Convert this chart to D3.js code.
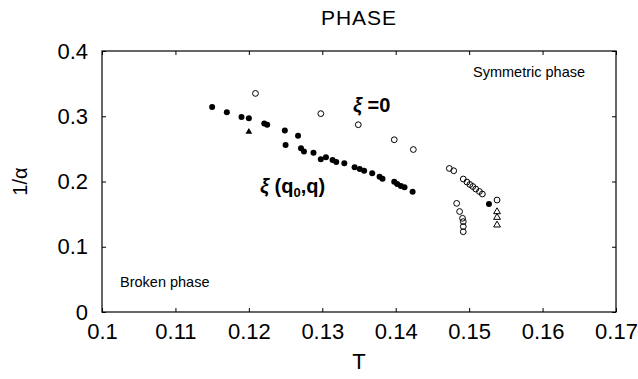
<!DOCTYPE html>
<html>
<head>
<meta charset="utf-8">
<script src="https://cdn.jsdelivr.net/npm/d3@7"></script>
<style>
  body { margin: 0; background: #fff; }
  text { font-family: Arial, "Liberation Sans", sans-serif; }
</style>
</head>
<body>
<div id="chart"></div>
<script>
// data: [T, 1/alpha]
var filledDots = [
  [0.1150, 0.314], [0.1170, 0.306], [0.1190, 0.299], [0.1200, 0.297],
  [0.1221, 0.289], [0.1225, 0.287], [0.1249, 0.278], [0.1267, 0.270],
  [0.1250, 0.256], [0.1271, 0.251], [0.1275, 0.246], [0.1288, 0.244],
  [0.1298, 0.234], [0.1305, 0.237], [0.1314, 0.233], [0.1319, 0.230],
  [0.1330, 0.228], [0.1344, 0.222], [0.1351, 0.219], [0.1357, 0.2165],
  [0.1368, 0.2125], [0.1378, 0.2074], [0.1382, 0.2043], [0.1398, 0.1997],
  [0.1402, 0.196], [0.1407, 0.193], [0.1412, 0.191], [0.1423, 0.1844],
  [0.1527, 0.1655]
];
var filledTriangles = [[0.1200, 0.276]];
var openDots = [
  [0.1209, 0.335], [0.1298, 0.304], [0.1349, 0.287], [0.1398, 0.264],
  [0.1424, 0.249], [0.1473, 0.220], [0.1479, 0.2165],
  [0.1492, 0.2038], [0.1497, 0.1992], [0.1501, 0.1954], [0.1505, 0.1923],
  [0.1509, 0.1885], [0.1514, 0.1847], [0.1518, 0.1808], [0.1538, 0.1716],
  [0.1483, 0.1665], [0.1487, 0.154], [0.1491, 0.1436], [0.1492, 0.1385],
  [0.1492, 0.131], [0.1492, 0.123]
];
var openTriangles = [[0.1538, 0.1537], [0.1538, 0.145], [0.1538, 0.1333]];
var xTicks = [0.1, 0.11, 0.12, 0.13, 0.14, 0.15, 0.16, 0.17];
var yTicks = [0, 0.1, 0.2, 0.3, 0.4];

var W = 638, H = 379;
var margin = { top: 51, right: 22, bottom: 67, left: 102 },
    width = W - margin.left - margin.right,
    height = H - margin.top - margin.bottom;

var svg = d3.select("#chart").append("svg")
  .attr("width", W).attr("height", H);

var g = svg.append("g")
  .attr("transform", "translate(" + margin.left + "," + margin.top + ")");

var x = d3.scaleLinear().domain([0.1, 0.17]).range([0, width]);
var y = d3.scaleLinear().domain([0, 0.4]).range([height, 0]);

// axes, ticks pointing inward on all four sides
var fmt = function(d) { return d === 0 ? "0" : String(+d.toFixed(2)); };

g.append("g").attr("transform", "translate(0," + height + ")")
  .call(d3.axisBottom(x).tickValues(xTicks).tickSizeInner(-4).tickSizeOuter(0).tickPadding(11).tickFormat(fmt));
g.append("g")
  .call(d3.axisTop(x).tickValues(xTicks).tickSizeInner(-4).tickSizeOuter(0).tickFormat(""));
g.append("g")
  .call(d3.axisLeft(y).tickValues(yTicks).tickSizeInner(-4).tickSizeOuter(0).tickPadding(14).tickFormat(fmt));
g.append("g").attr("transform", "translate(" + width + ",0)")
  .call(d3.axisRight(y).tickValues(yTicks).tickSizeInner(-4).tickSizeOuter(0).tickFormat(""));

g.selectAll(".domain").remove();
g.selectAll(".tick line").attr("stroke", "#000");
g.selectAll(".tick text").attr("font-size", 22).attr("fill", "#000")
  .attr("font-family", "Arial, 'Liberation Sans', sans-serif");

g.append("rect")
  .attr("width", width).attr("height", height)
  .attr("fill", "none").attr("stroke", "#000").attr("stroke-width", 1.2);

// marks
g.selectAll(".filled").data(filledDots).enter().append("circle")
  .attr("cx", d => x(d[0])).attr("cy", d => y(d[1]))
  .attr("r", 3).attr("fill", "#000");

g.selectAll(".open").data(openDots).enter().append("circle")
  .attr("cx", d => x(d[0])).attr("cy", d => y(d[1]))
  .attr("r", 2.9).attr("fill", "none").attr("stroke", "#000").attr("stroke-width", 1);

var tri = d3.symbol().type(d3.symbolTriangle).size(20);
g.selectAll(".ftri").data(filledTriangles).enter().append("path")
  .attr("d", tri)
  .attr("transform", d => "translate(" + x(d[0]) + "," + y(d[1]) + ")")
  .attr("fill", "#000");
g.selectAll(".otri").data(openTriangles).enter().append("path")
  .attr("d", tri)
  .attr("transform", d => "translate(" + x(d[0]) + "," + y(d[1]) + ")")
  .attr("fill", "none").attr("stroke", "#000").attr("stroke-width", 1);

// text
svg.append("text").attr("x", margin.left + width / 2).attr("y", 25)
  .attr("text-anchor", "middle").attr("font-size", 21).attr("letter-spacing", 1)
  .text("PHASE");

svg.append("text").attr("x", margin.left + width / 2).attr("y", 369)
  .attr("text-anchor", "middle").attr("font-size", 22).text("T");

svg.append("text")
  .attr("transform", "translate(27," + (margin.top + height / 2) + ") rotate(-90)")
  .attr("text-anchor", "middle").attr("font-size", 20).text("1/α");

svg.append("text").attr("x", 473).attr("y", 77)
  .attr("font-size", 14.5).text("Symmetric phase");
svg.append("text").attr("x", 120).attr("y", 287)
  .attr("font-size", 14.5).text("Broken phase");

var lab1 = svg.append("text").attr("x", 353).attr("y", 112)
  .attr("font-size", 20).attr("font-weight", "bold");
lab1.append("tspan").attr("font-style", "italic").text("ξ");
lab1.append("tspan").text(" =0");

var lab2 = svg.append("text").attr("x", 260).attr("y", 193)
  .attr("font-size", 20).attr("font-weight", "bold");
lab2.append("tspan").attr("font-style", "italic").text("ξ");
lab2.append("tspan").text(" (q");
lab2.append("tspan").attr("font-size", 13).attr("dy", 4).text("0");
lab2.append("tspan").attr("dy", -4).text(",q)");
</script>
</body>
</html>
